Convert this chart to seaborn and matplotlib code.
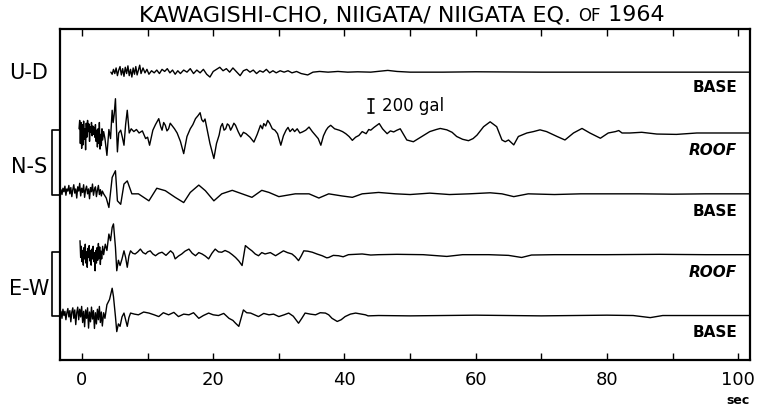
import matplotlib
matplotlib.use("Agg")
import matplotlib.pyplot as plt
import numpy as np
import pandas as pd
import seaborn as sns

# ---- accelerogram traces: (time [s], acceleration [gal]) ----
UD_BASE = [
    (4.4, 0), (4.6, -30), (4.8, 40), (5.0, -20), (5.2, 60), (5.4, -50), (5.6, 30), (5.8, 80),
    (6.0, -40), (6.2, 50), (6.4, -60), (6.6, 70), (6.8, -20), (7.0, 90), (7.2, -50), (7.4, 40),
    (7.6, -70), (7.8, 60), (8.0, -30), (8.2, 80), (8.4, -40), (8.6, 30), (8.8, 100), (9.0, -20),
    (9.3, 60), (9.6, -10), (9.9, 40), (10.2, -30), (10.6, 20), (11.0, -10), (11.4, 30), (11.8, -20),
    (12.2, 40), (12.6, 10), (13.0, 50), (13.4, -10), (13.8, 30), (14.2, -30), (14.6, 20), (15.0, -20),
    (15.5, 30), (16.0, 0), (16.5, 50), (17.0, -20), (17.5, 30), (18.0, -10), (18.5, 40), (19.0, -30),
    (19.5, -70), (20.0, 10), (20.5, 40), (21.0, 70), (21.5, 20), (22.0, 50), (22.5, 0), (23.0, 60),
    (23.5, 10), (24.1, -50), (24.6, 20), (25.1, 40), (25.6, 0), (26.1, 30), (26.6, -20), (27.1, 20),
    (27.6, 0), (28.1, 40), (28.6, -10), (29.1, 20), (29.6, -10), (30.2, 20), (30.8, 0), (31.4, 20),
    (32.0, -10), (32.7, 10), (33.4, -20), (34.4, -40), (35.2, 0), (36.2, 10), (37.5, 0), (39.0, 10),
    (40.5, 0), (42.0, 5), (44.0, 0), (46.6, 25), (48.0, 10), (50.0, 0), (55.0, 0), (60.0, 5),
    (70.0, 0), (80.0, 0), (90.0, 0), (101.8, 0),
]

NS_ROOF = [
    (-0.45, 60), (-0.35, 180), (-0.25, -150), (-0.15, 150), (-0.05, -220), (0.05, 120), (0.15, -170),
    (0.25, 170), (0.35, -90), (0.45, 60), (0.55, -240), (0.65, 140), (0.75, -60), (0.85, 180),
    (0.95, 20), (1.05, 130), (1.15, -120), (1.25, 90), (1.35, 10), (1.45, 150), (1.55, -40),
    (1.65, 100), (1.75, -20), (1.85, 80), (1.95, -60), (2.05, 120), (2.15, -120), (2.25, 40),
    (2.35, -200), (2.45, 60), (2.55, -150), (2.65, 150), (2.75, -230), (2.85, -20), (2.95, -180),
    (3.05, 60), (3.15, -100), (3.3, 20), (3.5, -80), (3.8, -320), (4.1, 50), (4.35, -80), (4.6, 325),
    (4.75, 150), (4.9, 260), (5.1, 490), (5.25, 80), (5.4, -270), (5.6, 0), (5.9, 40), (6.15, -60),
    (6.4, -175), (6.65, 120), (6.9, 325), (7.2, 0), (7.5, 60), (7.9, 20), (8.3, 50), (8.7, 0),
    (9.2, 30), (9.7, -80), (10.0, -60), (10.3, -175), (10.8, 40), (11.2, 120), (11.7, 205),
    (12.0, 90), (12.2, 40), (12.45, 150), (12.7, 110), (12.95, 30), (13.2, 60), (13.45, 140),
    (13.7, 110), (14.1, 60), (14.5, 0), (15.0, -120), (15.5, -295), (16.0, -50), (16.5, 60),
    (16.9, 120), (17.3, 205), (17.7, 250), (18.0, 290), (18.25, 190), (18.5, 160), (18.75, 200),
    (19.0, 85), (19.5, -150), (20.1, -365), (20.5, -150), (20.9, -30), (21.15, 90), (21.4, 135),
    (21.65, 40), (21.9, 60), (22.15, 130), (22.4, 110), (22.65, 40), (22.9, 85), (23.15, 140),
    (23.4, 110), (23.8, 20), (24.2, -55), (24.6, 10), (25.0, -10), (25.6, -60), (26.2, -130),
    (26.7, -20), (27.2, 110), (27.5, 60), (27.7, 135), (28.0, 100), (28.3, 180), (28.6, 140),
    (29.0, 60), (29.4, 40), (29.8, -10), (30.3, -175), (30.7, -40), (31.1, 40), (31.4, 80),
    (31.7, 20), (32.1, 60), (32.4, 20), (32.8, 60), (33.2, 0), (33.6, 15), (34.1, 40), (34.6, 85),
    (35.1, 20), (35.6, -35), (36.0, -80), (36.4, -175), (36.8, -40), (37.2, 40), (37.5, 80),
    (37.9, 110), (38.5, 60), (39.2, 40), (39.7, 20), (40.2, -10), (40.7, -50), (41.2, -105),
    (41.7, -60), (42.2, -35), (42.7, 20), (43.3, -10), (43.7, 50), (44.0, 40), (44.5, 80),
    (45.3, 135), (45.8, 60), (46.5, -10), (47.0, 30), (47.5, 15), (48.0, 40), (48.5, 60),
    (49.5, -100), (50.5, -125), (51.8, -50), (53.0, 20), (54.0, 50), (54.6, 65), (55.6, 45),
    (56.4, 10), (57.1, -50), (58.0, -90), (58.9, -110), (59.6, -80), (60.2, -30), (61.2, 90),
    (62.2, 160), (63.2, 90), (64.0, -100), (64.5, -125), (65.0, -100), (65.8, -170), (66.5, -50),
    (67.8, 0), (68.8, 20), (69.8, 45), (70.8, 20), (72.4, -50), (73.6, -100), (74.9, 0), (76.2, 65),
    (77.4, 0), (79.0, -75), (80.2, 0), (81.3, 20), (81.8, 35), (82.3, 0), (83.5, 0), (85.3, 10),
    (87.6, -15), (90.6, -20), (93.7, 0), (97.8, 0), (101.8, 0),
]

NS_BASE = [
    (-3.35, 20), (-3.2, 60), (-3.05, -10), (-2.9, 80), (-2.75, 30), (-2.6, 110), (-2.45, -20),
    (-2.3, 70), (-2.15, 40), (-2.0, 120), (-1.85, 0), (-1.7, 90), (-1.55, -40), (-1.4, 60),
    (-1.25, 130), (-1.1, 10), (-0.95, 70), (-0.8, -60), (-0.65, 100), (-0.5, 40), (-0.35, 150),
    (-0.2, -30), (-0.05, 80), (0.1, 20), (0.25, 130), (0.4, -50), (0.55, 60), (0.7, 110), (0.85, 0),
    (1.0, 70), (1.15, -70), (1.3, 90), (1.45, 30), (1.6, 140), (1.75, -20), (1.9, 60), (2.05, 100),
    (2.2, -40), (2.35, 50), (2.5, 120), (2.65, -10), (2.8, 60), (2.95, -30), (3.1, 40), (3.3, 0),
    (3.7, -60), (4.1, -195), (4.6, 235), (5.1, 330), (5.4, -100), (5.9, -150), (6.4, 140),
    (6.9, 185), (7.6, 0), (8.6, 0), (10.2, -100), (11.4, 80), (12.7, 45), (14.2, -50), (15.5, -125),
    (16.5, 20), (17.8, 125), (18.8, 45), (20.1, -100), (21.3, 0), (22.9, 50), (24.4, 0), (25.9, -50),
    (27.4, 50), (28.5, 20), (30.0, -40), (32.5, 0), (34.6, 0), (36.1, -60), (37.6, 0), (39.6, -30),
    (41.2, -50), (42.7, 0), (45.2, 20), (47.8, 0), (50.0, -10), (53.0, 10), (56.0, -10), (59.0, 0),
    (62.2, 15), (64.0, 0), (65.8, -40), (68.0, 0), (72.0, -10), (76.0, 0), (80.0, 0), (85.0, 0),
    (90.0, -5), (95.0, 0), (101.8, 0),
]

EW_ROOF = [
    (-0.3, 200), (-0.2, -40), (-0.1, 120), (0.0, -100), (0.1, 60), (0.2, -150), (0.3, 100),
    (0.4, -60), (0.5, 150), (0.6, -120), (0.7, 40), (0.8, -180), (0.9, 90), (1.0, -40), (1.1, 130),
    (1.2, -90), (1.3, 60), (1.4, -150), (1.5, 80), (1.6, -60), (1.7, 120), (1.8, -100), (1.9, 30),
    (2.0, -230), (2.1, 60), (2.2, -120), (2.3, 100), (2.4, -80), (2.5, 160), (2.6, -50), (2.7, 110),
    (2.8, -140), (2.9, 50), (3.0, -60), (3.15, 120), (3.3, 0), (3.55, 150), (3.8, 60), (4.1, 295),
    (4.35, 200), (4.6, 390), (4.8, 440), (5.1, 105), (5.3, -230), (5.55, -80), (5.8, -155),
    (6.1, -60), (6.4, 55), (6.65, -40), (6.9, -180), (7.15, -20), (7.4, 55), (7.75, 20), (8.1, 10),
    (8.5, 40), (8.9, 80), (9.3, 30), (9.7, 10), (10.0, 40), (10.4, 55), (10.8, 10), (11.2, -15),
    (11.7, 20), (12.2, 35), (12.8, -10), (13.5, 55), (13.9, 20), (14.2, -60), (14.7, -20),
    (15.2, 10), (15.7, 50), (16.3, 80), (16.8, 20), (17.3, -15), (17.8, 30), (18.3, 10), (18.8, -20),
    (19.3, -60), (19.8, 20), (20.3, 80), (20.8, 40), (21.3, 35), (21.8, 60), (22.4, 35), (22.9, 0),
    (23.4, -40), (23.9, -90), (24.4, -155), (24.9, 130), (25.4, 90), (25.9, 55), (26.4, 10),
    (26.9, -15), (27.4, 30), (27.9, 10), (28.7, 30), (29.5, -15), (30.1, 20), (30.7, 55), (31.3, 30),
    (32.0, 10), (32.5, -30), (33.0, -85), (33.4, -20), (33.8, 55), (34.4, 50), (35.1, 35),
    (35.8, 10), (36.6, -15), (37.3, -45), (37.6, -40), (38.3, -10), (39.1, -15), (39.8, -30),
    (40.6, 0), (41.6, 5), (42.7, 10), (44.0, -5), (45.2, 0), (48.0, 5), (52.0, 0), (55.6, -25),
    (58.0, 0), (62.0, 0), (65.0, -10), (67.0, -40), (68.5, -5), (72.0, 0), (80.0, 0), (88.0, 5),
    (95.0, 0), (101.8, 0),
]

EW_BASE = [
    (-3.35, 20), (-3.2, 60), (-3.05, -40), (-2.9, 90), (-2.75, 0), (-2.6, 60), (-2.45, -60),
    (-2.3, 40), (-2.15, 100), (-2.0, -20), (-1.85, 70), (-1.7, -90), (-1.55, 50), (-1.4, 110),
    (-1.25, -40), (-1.1, 80), (-0.95, -130), (-0.8, 40), (-0.65, 120), (-0.5, -60), (-0.35, 90),
    (-0.2, -20), (-0.05, 130), (0.1, -100), (0.25, 60), (0.4, -160), (0.55, 80), (0.7, -40),
    (0.85, 110), (1.0, -180), (1.15, 50), (1.3, -90), (1.45, 120), (1.6, -50), (1.75, 70),
    (1.9, -185), (2.05, 40), (2.2, -120), (2.35, 90), (2.5, -60), (2.65, 130), (2.8, -100),
    (2.95, 50), (3.1, -150), (3.3, 40), (3.5, -40), (3.8, 155), (4.2, 230), (4.6, 390), (4.8, 270),
    (5.1, -15), (5.3, -230), (5.55, -120), (5.8, -155), (6.1, -20), (6.4, 35), (6.65, -60),
    (6.9, -155), (7.15, -30), (7.4, 35), (8.0, 20), (8.6, 10), (9.4, 50), (10.2, 35), (11.0, 10),
    (11.7, -15), (12.4, 40), (13.2, 10), (14.0, 45), (14.7, -15), (15.5, 20), (16.3, 10), (17.0, 40),
    (17.8, -40), (18.5, 0), (19.3, 35), (20.0, 10), (20.8, 0), (21.6, 30), (22.4, -40), (23.0, -70),
    (23.4, -110), (23.9, -155), (24.6, 80), (25.1, 40), (25.7, 35), (26.3, 10), (26.9, -15),
    (27.7, 30), (28.5, 10), (29.2, 20), (30.0, -15), (30.8, 10), (31.5, 35), (32.2, -10),
    (33.0, -110), (33.5, -40), (34.0, 35), (34.8, 20), (35.6, 10), (36.3, 40), (37.1, 35),
    (37.6, 10), (38.1, -40), (38.9, -85), (39.5, -60), (40.1, -15), (40.9, 20), (41.7, 35),
    (42.3, 25), (43.2, 10), (43.6, -5), (45.2, 0), (50.0, -5), (55.0, 0), (60.0, 5), (65.0, 0),
    (70.0, -5), (75.0, 0), (80.0, 5), (84.0, 0), (86.6, -30), (88.5, 0), (95.0, 0), (101.8, 0),
]

# trace order from top to bottom, with component and location labels
TRACES = [UD_BASE, NS_ROOF, NS_BASE, EW_ROOF, EW_BASE]
LOCATIONS = ["BASE", "ROOF", "BASE", "ROOF", "BASE"]
COMPONENTS = ["U-D", "N-S", "E-W"]
TRACE_SPACING = 870          # gal between trace baselines
SCALE_BAR = 200              # gal
X_TICKS = [0, 20, 40, 60, 80, 100]
X_MINOR = [10, 30, 50, 70, 90]

sns.set_style("white")
plt.rcParams["font.family"] = ["DejaVu Sans"]
plt.rcParams["text.color"] = "black"
plt.rcParams["xtick.color"] = "black"
plt.rcParams["xtick.labelcolor"] = "black"

fig = plt.figure(figsize=(7.74, 4.06), dpi=100)
ax = fig.add_axes([60 / 774, 45 / 406, 690 / 774, 331 / 406])

n = len(TRACES)
baselines = [(n - 1 - i) * TRACE_SPACING for i in range(n)]

frames = []
for i, (trace, base) in enumerate(zip(TRACES, baselines)):
    t, a = zip(*trace)
    frames.append(pd.DataFrame({"time": t, "acc": np.array(a) + base, "trace": i}))
data = pd.concat(frames, ignore_index=True)

sns.lineplot(data=data, x="time", y="acc", units="trace", estimator=None,
             color="black", lw=1.0, ax=ax, sort=False, legend=False)

ax.set_xlim(-3.35, 101.8)
ax.set_ylim(-636, 4097)
ax.set_xlabel("")
ax.set_ylabel("")
ax.set_yticks([])
ax.set_xticks(X_TICKS)
ax.set_xticklabels([str(v) for v in X_TICKS], fontsize=13, color="black")
ax.set_xticks(X_MINOR, minor=True)
ax.tick_params(axis="x", which="both", direction="in", length=5, width=1,
               top=True, bottom=True, pad=7, colors="black")
for s in ax.spines.values():
    s.set_visible(True)
    s.set_color("black")
    s.set_linewidth(1.6)

# location labels at the right end of each trace
for loc, base in zip(LOCATIONS, baselines):
    off = 200 if base == baselines[0] else 235
    ax.text(99.8, base - off, loc, ha="right", va="center", fontsize=11,
            fontweight="bold", style="italic" if loc == "ROOF" else "normal",
            color="black")

# component labels and brackets on the left
ax.text(-8.1, baselines[0], COMPONENTS[0], ha="center", va="center", fontsize=15,
        clip_on=False, color="black")
for comp, (b_top, b_bot) in zip(COMPONENTS[1:], [(baselines[1], baselines[2]),
                                                 (baselines[3], baselines[4])]):
    y_top = b_top + 40
    y_bot = b_bot - 10
    ax.plot([-3.35, -4.6, -4.6, -3.35], [y_top, y_top, y_bot, y_bot],
            color="black", lw=1.2, clip_on=False)
    ax.text(-8.0, (b_top + b_bot) / 2 - 40, comp, ha="center", va="center",
            fontsize=15, clip_on=False, color="black")

# amplitude scale bar
bar_t = 44.0
bar_lo = baselines[1] + 286
ax.plot([bar_t, bar_t], [bar_lo, bar_lo + SCALE_BAR], color="black", lw=1.2)
for yy in (bar_lo, bar_lo + SCALE_BAR):
    ax.plot([bar_t - 0.45, bar_t + 0.45], [yy, yy], color="black", lw=1.2)
ax.text(45.7, bar_lo + SCALE_BAR / 2 + 10, f"{SCALE_BAR} gal", ha="left",
        va="center", fontsize=12, color="black")

# time unit under the last tick
ax.text(100, -1200, "sec", ha="center", va="center", fontsize=9, fontweight="bold",
        clip_on=False, color="black")

# title with small-capital "OF"
parts = [("KAWAGISHI-CHO, NIIGATA/ NIIGATA EQ. ", 16), ("OF", 12), (" 1964", 16)]
fig.canvas.draw()
renderer = fig.canvas.get_renderer()
texts = []
x = 0.0
for s, size in parts:
    txt = fig.text(x, 1 - 14 / 406, s, fontsize=size, ha="left", va="baseline",
                   color="black")
    fig.canvas.draw()
    bb = txt.get_window_extent(renderer)
    texts.append(txt)
    x += bb.width / fig.bbox.width
total = x
start = 402 / 774 - total / 2
base_y = 1 - 21 / 406
xx = start
for txt in texts:
    bb = txt.get_window_extent(renderer)
    txt.set_position((xx, base_y))
    xx += bb.width / fig.bbox.width

fig.savefig("out.png", dpi=100, facecolor="white")
